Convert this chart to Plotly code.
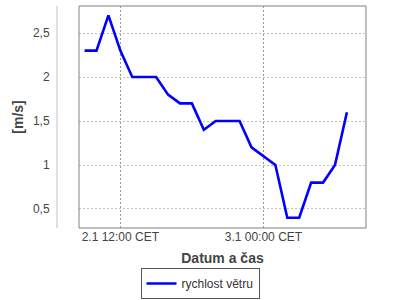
import plotly.graph_objects as go

times = [
    "2013-01-02 09:00", "2013-01-02 10:00", "2013-01-02 11:00", "2013-01-02 12:00",
    "2013-01-02 13:00", "2013-01-02 14:00", "2013-01-02 15:00", "2013-01-02 16:00",
    "2013-01-02 17:00", "2013-01-02 18:00", "2013-01-02 19:00", "2013-01-02 20:00",
    "2013-01-02 21:00", "2013-01-02 22:00", "2013-01-02 23:00", "2013-01-03 00:00",
    "2013-01-03 01:00", "2013-01-03 02:00", "2013-01-03 03:00", "2013-01-03 04:00",
    "2013-01-03 05:00", "2013-01-03 06:00", "2013-01-03 07:00",
]
wind_speed = [2.3, 2.3, 2.7, 2.3, 2.0, 2.0, 2.0, 1.8, 1.7, 1.7, 1.4, 1.5,
              1.5, 1.5, 1.2, 1.1, 1.0, 0.4, 0.4, 0.8, 0.8, 1.0, 1.6]

tick_positions = ["2013-01-02 12:00", "2013-01-03 00:00"]
tick_labels = ["2.1 12:00 CET", "3.1 00:00 CET"]
y_ticks = [0.5, 1, 1.5, 2, 2.5]

series_name = "rychlost větru"
x_title = "Datum a čas"
y_title = "[m/s]"

FONT = "Liberation Sans, Arial, sans-serif"

fig = go.Figure()
fig.add_trace(go.Scatter(
    x=times, y=wind_speed, mode="lines", name=series_name,
    line=dict(color="#0000ff", width=2.6),
    showlegend=True,
))

fig.update_layout(
    width=400, height=300,
    margin=dict(l=79, r=34, t=6, b=72, autoexpand=False),
    paper_bgcolor="white", plot_bgcolor="white",
    separators=", ",
    font=dict(family=FONT, size=12, color="#444444"),
    showlegend=True,
    legend=dict(
        orientation="h", xref="container", yref="container",
        x=0.5, xanchor="center", y=1 - 268 / 300, yanchor="top",
        bordercolor="#555555", borderwidth=1, bgcolor="white",
        font=dict(family=FONT, size=12, color="#333333"),
        itemwidth=30,
    ),
    xaxis=dict(
        type="date",
        range=["2013-01-02 08:32", "2013-01-03 08:36"],
        tickvals=tick_positions, ticktext=tick_labels,
        showgrid=True, gridcolor="#999999", griddash="2px,2px", gridwidth=1,
        zeroline=False, showline=False, ticks="",
        title=dict(text=x_title, font=dict(family=FONT, size=14, color="#444444", weight="bold"), standoff=10),
        tickfont=dict(family=FONT, size=12, color="#444444"),
    ),
    yaxis=dict(
        range=[0.284, 2.807],
        tickvals=y_ticks,
        showgrid=True, gridcolor="#c0c0c0", griddash="2px,2px", gridwidth=1,
        zeroline=False, showline=False,
        ticks="outside", ticklen=26, tickcolor="rgba(0,0,0,0)",
        title=dict(text=y_title, font=dict(family=FONT, size=14, color="#444444", weight="bold"), standoff=6),
        tickfont=dict(family=FONT, size=12, color="#444444"),
    ),
    shapes=[
        dict(type="rect", xref="x domain", yref="y domain", x0=0, x1=1, y0=0, y1=1,
             line=dict(color="#808080", width=1), fillcolor="rgba(0,0,0,0)", layer="above"),
        dict(type="line", xref="paper", yref="paper", x0=-0.0767, x1=-0.0767, y0=0, y1=1,
             line=dict(color="#c0c0c0", width=1)),
    ],
)

fig.write_html("out.html")
